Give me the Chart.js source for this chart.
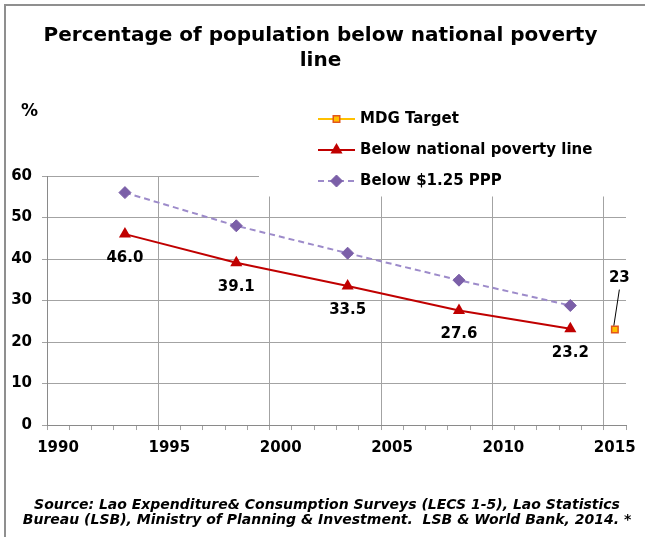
<!DOCTYPE html>
<html>
<head>
<meta charset="utf-8">
<script src="https://cdn.jsdelivr.net/npm/chart.js@4.4.1/dist/chart.umd.min.js"></script>
<style>
  html, body { margin: 0; padding: 0; background: #fff; }
  #wrap { width: 645px; height: 537px; position: relative; }
</style>
</head>
<body>
<div id="wrap"><canvas id="povertyChart"></canvas></div>
<script>
const surveyYears = [1993.5, 1998.5, 2003.5, 2008.5, 2013.5];
const nationalLine = [46.0, 39.1, 33.5, 27.6, 23.2];
const ppp125 = [56.0, 48.0, 41.4, 34.9, 28.8];
const mdgYears = [2015.5];
const mdgTarget = [23];
const xLabelYears = [1990, 1995, 2000, 2005, 2010, 2015];
const yTicks = [0, 10, 20, 30, 40, 50, 60];
const titleLines = ["Percentage of population below national poverty", "line"];
const sourceLines = [
  "Source: Lao Expenditure& Consumption Surveys (LECS 1-5), Lao Statistics",
  "Bureau (LSB), Ministry of Planning & Investment.  LSB & World Bank, 2014. *",
];

(() => {
  const el = document.getElementById("povertyChart");
  if (!el || typeof Chart === "undefined") return;

  const FONT = "'DejaVu Sans', Verdana, sans-serif";
  const GRID = "#a3a3a3";
  const AXIS = "#8a8a8a";
  Chart.defaults.font.family = FONT;
  Chart.defaults.color = "#000";

  const toPoints = (xs, ys) => xs.map((x, i) => ({ x, y: ys[i] }));

  function marker(ctx, ds, x, y) {
    const r = ds.pointRadius;
    ctx.save();
    ctx.fillStyle = ds.pointBackgroundColor;
    ctx.strokeStyle = ds.pointBorderColor;
    ctx.lineWidth = ds.pointBorderWidth;
    ctx.setLineDash([]);
    ctx.beginPath();
    if (ds.pointStyle === "rect") {
      const h = Math.SQRT1_2 * r;
      ctx.rect(x - h, y - h, 2 * h, 2 * h);
    } else if (ds.pointStyle === "triangle") {
      ctx.moveTo(x, y - r);
      ctx.lineTo(x + r * Math.sin(Math.PI / 3), y + r / 2);
      ctx.lineTo(x - r * Math.sin(Math.PI / 3), y + r / 2);
      ctx.closePath();
    } else {
      ctx.moveTo(x - r, y);
      ctx.lineTo(x, y - r);
      ctx.lineTo(x + r, y);
      ctx.lineTo(x, y + r);
      ctx.closePath();
    }
    ctx.fill();
    if (ds.pointBorderWidth > 0) ctx.stroke();
    ctx.restore();
  }

  // white page + grey frame on the top and left edge
  const frame = {
    id: "frame",
    beforeDraw(chart) {
      const { ctx, width, height } = chart;
      ctx.save();
      ctx.fillStyle = "#fff";
      ctx.fillRect(0, 0, width, height);
      ctx.strokeStyle = "#8f8f8f";
      ctx.lineWidth = 2;
      ctx.beginPath();
      ctx.moveTo(5, height);
      ctx.lineTo(5, 5);
      ctx.lineTo(width, 5);
      ctx.stroke();
      ctx.restore();
    },
  };

  // title/source are centred on the whole frame, not on the plot
  const centreText = {
    id: "centreText",
    afterLayout(chart) {
      chart.boxes.forEach((b) => {
        if (typeof b._drawArgs !== "function") return;
        b.left = 0;
        b.right = b.options.position === "bottom" ? 654 : 641;
        b.width = b.right - b.left;
      });
    },
  };

  // legend sits inside the plot on a white box, like the Excel original
  const boxLegend = {
    id: "boxLegend",
    afterDatasetsDraw(chart) {
      const { ctx } = chart;
      ctx.save();
      ctx.fillStyle = "#fff";
      ctx.fillRect(259, 90, 645 - 259, 106.5);

      const rows = [119, 150, 181];
      chart.data.datasets.forEach((ds, i) => {
        const y = rows[i];
        ctx.strokeStyle = ds.borderColor;
        ctx.lineWidth = ds.borderWidth;
        ctx.setLineDash(ds.borderDash || []);
        ctx.beginPath();
        ctx.moveTo(318, y);
        ctx.lineTo(355, y);
        ctx.stroke();
        marker(ctx, ds, 336.5, y);
        ctx.fillStyle = "#000";
        ctx.font = "bold 15px " + FONT;
        ctx.textAlign = "left";
        ctx.textBaseline = "middle";
        ctx.fillText(ds.label, 360, y);
      });

      ctx.font = "bold 17px " + FONT;
      ctx.fillText("%", 21, 112);
      ctx.restore();
    },
  };

  const valueLabels = {
    id: "valueLabels",
    afterDatasetsDraw(chart) {
      const { ctx } = chart;
      ctx.save();
      ctx.fillStyle = "#000";
      ctx.font = "bold 15px " + FONT;
      ctx.textAlign = "center";
      ctx.textBaseline = "middle";
      chart.getDatasetMeta(1).data.forEach((pt, i) => {
        ctx.fillText(nationalLine[i].toFixed(1), pt.x, pt.y + 24);
      });
      const m = chart.getDatasetMeta(0).data[0];
      ctx.fillText(String(mdgTarget[0]), m.x + 4.5, m.y - 51);
      ctx.strokeStyle = "#000";
      ctx.lineWidth = 1;
      ctx.beginPath();
      ctx.moveTo(m.x - 1, m.y - 4);
      ctx.lineTo(m.x + 4.5, m.y - 40);
      ctx.stroke();
      ctx.restore();
    },
  };

  new Chart(el, {
    type: "scatter",
    data: {
      datasets: [
        {
          label: "MDG Target",
          data: toPoints(mdgYears, mdgTarget),
          borderColor: "#ffc000",
          borderWidth: 2,
          pointStyle: "rect",
          pointRadius: 4.6,
          pointBackgroundColor: "#ffc000",
          pointBorderColor: "#e2561b",
          pointBorderWidth: 1.5,
          showLine: false,
        },
        {
          label: "Below national poverty line",
          data: toPoints(surveyYears, nationalLine),
          borderColor: "#c00000",
          borderWidth: 2,
          pointStyle: "triangle",
          pointRadius: 7,
          pointBackgroundColor: "#c00000",
          pointBorderColor: "#c00000",
          pointBorderWidth: 0,
          showLine: true,
        },
        {
          label: "Below $1.25 PPP",
          data: toPoints(surveyYears, ppp125),
          borderColor: "#9d8bca",
          borderWidth: 2,
          borderDash: [6, 4],
          pointStyle: "rectRot",
          pointRadius: 6,
          pointBackgroundColor: "#7b5fa8",
          pointBorderColor: "#7b5fa8",
          pointBorderWidth: 1,
          showLine: true,
        },
      ],
    },
    options: {
      responsive: true,
      maintainAspectRatio: false,
      animation: false,
      layout: { padding: { left: 0, right: 19, top: 0, bottom: 0 } },
      plugins: {
        legend: { display: false },
        tooltip: { enabled: false },
        title: {
          display: true,
          text: titleLines,
          color: "#000",
          font: { size: 20, weight: "bold", lineHeight: 1.225 },
          padding: { top: 24, bottom: 103 },
        },
        subtitle: {
          display: true,
          position: "bottom",
          text: sourceLines,
          color: "#000",
          font: { size: 14, weight: "bold", style: "italic", lineHeight: 1.07 },
          padding: { top: 33, bottom: 9 },
        },
      },
      scales: {
        x: {
          type: "linear",
          min: 1990,
          max: 2016,
          afterFit: (s) => { s.height = 40; },
          ticks: {
            stepSize: 1,
            autoSkip: false,
            maxRotation: 0,
            minRotation: 0,
            labelOffset: 11,
            padding: 9,
            color: "#000",
            font: { size: 15, weight: "bold" },
            callback: (v) => (xLabelYears.includes(v) ? String(v) : ""),
          },
          grid: {
            color: (c) => (c.tick && xLabelYears.includes(c.tick.value) ? GRID : "rgba(0,0,0,0)"),
            tickColor: GRID,
            tickLength: 5,
            lineWidth: 1,
          },
          border: { color: AXIS, width: 1 },
        },
        y: {
          min: 0,
          max: 60,
          afterFit: (s) => { s.width = 47; },
          afterBuildTicks: (s) => { s.ticks = yTicks.map((v) => ({ value: v })); },
          ticks: {
            padding: 10,
            color: "#000",
            font: { size: 15, weight: "bold" },
          },
          grid: { color: GRID, tickColor: GRID, tickLength: 5, lineWidth: 1 },
          border: { color: AXIS, width: 1 },
        },
      },
    },
    plugins: [frame, centreText, boxLegend, valueLabels],
  });
})();
</script>
</body>
</html>
